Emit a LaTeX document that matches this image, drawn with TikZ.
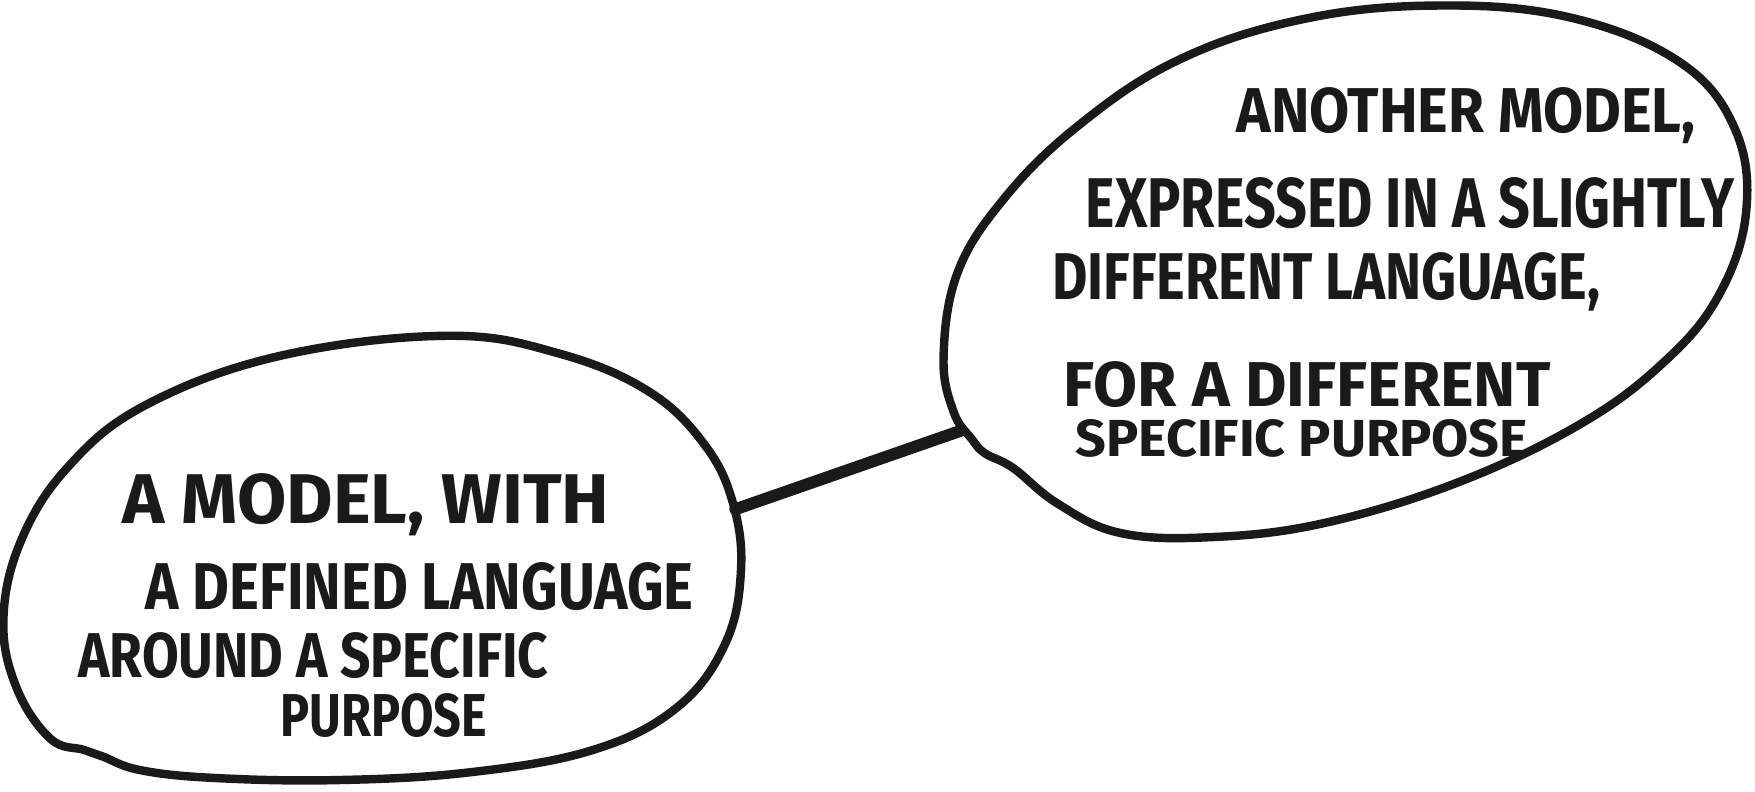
\documentclass[tikz,border=0pt]{standalone}
\usepackage{fontspec}
\setmainfont{Fira Sans}
\usepackage{graphicx}
\usepackage{xcolor}
\usetikzlibrary{positioning}
\definecolor{inkblack}{HTML}{1A1A1A}

% one hand-lettered line, stretched to the size it has in the sketch
\newcommand{\handline}[3]{\resizebox{#1cm}{#2cm}{\bfseries #3}}

\begin{document}
\begin{tikzpicture}[
    x=0.011193cm, y=-0.011193cm,
    blob/.style={draw=inkblack, line width=2.4pt, line join=round},
    link/.style={draw=inkblack, line width=3.4pt, line cap=round},
    hand/.style={inner sep=0pt, anchor=base, text=inkblack}
]
    \useasboundingbox (0,0) rectangle (1568,707);

    % Left model
    \draw[blob] plot[smooth cycle, tension=0.65] coordinates {
        (400,300) (500,316) (580,350) (630,398) (655,450) (662,510)
        (648,575) (605,632) (530,670) (420,690) (300,697) (190,695)
        (125,688) (92,676) (75,670) (45,660) (15,615) (3,555)
        (18,485) (60,418) (130,362) (250,318)};
    \coordinate (lefttip) at (657,455);

    \node[hand] (lm1) at (327,468) {\handline{4.87}{0.50}{A MODEL, WITH}};
    \node[hand] (lm2) at (375,545) {\handline{5.48}{0.47}{A DEFINED LANGUAGE}};
    \node[hand] (lm3) at (280,605) {\handline{4.70}{0.45}{AROUND A SPECIFIC}};
    \node[hand] (lm4) at (343,658) {\handline{2.07}{0.43}{PURPOSE}};

    % Right model
    \draw[blob] plot[smooth cycle, tension=0.65] coordinates {
        (1280,5) (1400,15) (1500,55) (1550,115) (1560,190) (1535,265)
        (1485,325) (1410,380) (1300,432) (1180,468) (1080,480) (1000,476)
        (945,450) (905,418) (880,405) (868,392) (852,368) (843,320)
        (855,245) (895,180) (960,115) (1050,55) (1160,18)};
    \coordinate (righttip) at (858,385);

    \node[hand] (rm1) at (1310,118) {\handline{4.59}{0.45}{ANOTHER MODEL,}};
    \node[hand] (rm2) at (1260,203) {\handline{6.49}{0.50}{EXPRESSED IN A SLIGHTLY}};
    \node[hand] (rm3) at (1185,268) {\handline{5.48}{0.47}{DIFFERENT LANGUAGE,}};
    \node[hand] (rm4) at (1168,363) {\handline{4.87}{0.45}{FOR A DIFFERENT}};
    \node[hand] (rm5) at (1163,408) {\handline{4.53}{0.37}{SPECIFIC PURPOSE}};

    \draw[link] (lefttip) -- (righttip);
\end{tikzpicture}
\end{document}
